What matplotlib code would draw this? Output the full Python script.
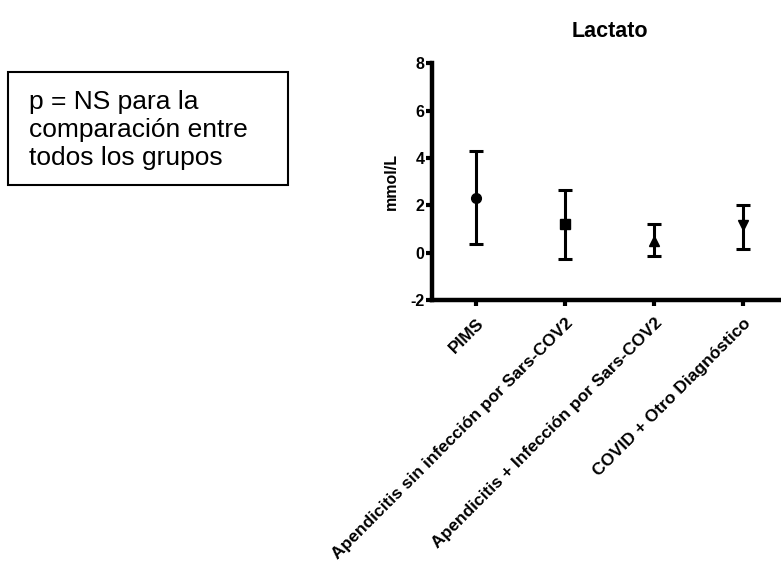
import matplotlib
matplotlib.use("Agg")
import matplotlib.pyplot as plt

categories = ["PIMS", "Apendicitis sin infección por Sars-COV2",
              "Apendicitis + Infección por Sars-COV2", "COVID + Otro Diagnóstico"]
means = [2.3, 1.2, 0.5, 1.15]
upper = [4.3, 2.65, 1.2, 2.0]
lower = [0.35, -0.25, -0.15, 0.15]
markers = ["o", "s", "^", "v"]
yticks = [-2, 0, 2, 4, 6, 8]

plt.rcParams['font.family'] = ['Liberation Sans', 'DejaVu Sans']

fig = plt.figure(figsize=(7.81, 5.65), dpi=100)
ax = fig.add_axes([0.5527, 0.469, 0.456, 0.419])

for i, (m, u, l, mk) in enumerate(zip(means, upper, lower, markers)):
    ax.errorbar([i], [m], yerr=[[m - l], [u - m]], fmt=mk, color='black',
                ms=7, elinewidth=2.2, capsize=4.7, capthick=2.2)

ax.set_xlim(-0.5, 3.5)
ax.set_ylim(-2, 8)
ax.set_yticks(yticks)
ax.set_yticklabels([str(t) for t in yticks], fontsize=11.5, fontweight='bold')
ax.set_xticks(range(len(categories)))
ax.set_xticklabels(categories, rotation=45, ha='right', rotation_mode='anchor',
                   fontsize=12.5, fontweight='bold')
for s in ['top', 'right']:
    ax.spines[s].set_visible(False)
for s in ['left', 'bottom']:
    ax.spines[s].set_linewidth(3.2)
ax.tick_params(axis='y', width=3, length=4, pad=1)
ax.tick_params(axis='x', width=3, length=4.5, pad=6.5)
ax.set_ylabel("mmol/L", fontsize=11.5, fontweight='bold', labelpad=8)
ax.set_title("Lactato", fontsize=15.5, fontweight='bold', pad=19)

fig.text(29 / 781, 1 - 130 / 565, "p = NS para la\ncomparación entre\ntodos los grupos",
         fontsize=19, va='center', ha='left', linespacing=1.2)
rect = plt.Rectangle((8 / 781, 1 - 185 / 565), 280 / 781, 113 / 565,
                     transform=fig.transFigure, fill=False, edgecolor='black', lw=1.5)
fig.patches.append(rect)

fig.savefig("out.png", dpi=100)
